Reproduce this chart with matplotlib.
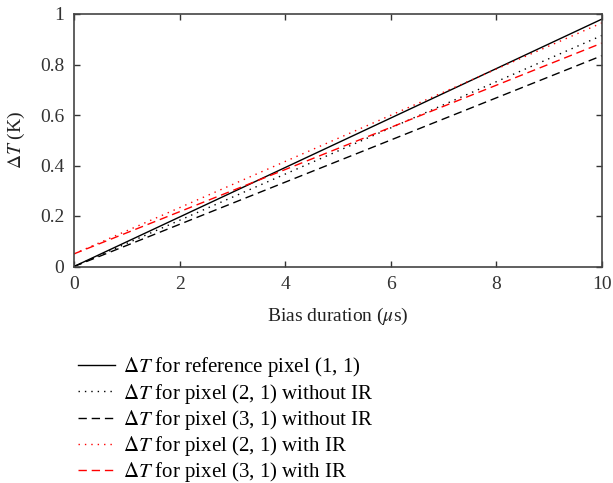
import numpy as np
import matplotlib.pyplot as plt

plt.rcParams['font.family'] = ['Liberation Serif', 'DejaVu Serif']
plt.rcParams['mathtext.fontset'] = 'stix'

# bias duration (us) and temperature rise (K)
bias = [0, 10]
dt_ref = [0.0, 0.98]
dt_21_noir = [0.0, 0.915]
dt_31_noir = [0.0, 0.835]
dt_21_ir = [0.05, 0.965]
dt_31_ir = [0.05, 0.885]

labels = [r'$\Delta T$ for reference pixel (1, 1)',
          r'$\Delta T$ for pixel (2, 1) without IR',
          r'$\Delta T$ for pixel (3, 1) without IR',
          r'$\Delta T$ for pixel (2, 1) with IR',
          r'$\Delta T$ for pixel (3, 1) with IR']

fig = plt.figure(figsize=(6.13, 4.83), dpi=100)
ax = fig.add_axes([74/613, 1-266.5/483, (602-74)/613, (266.5-14)/483])

lw = 1.0
ax.plot(bias, dt_ref, color='black', lw=lw, label=labels[0])
ax.plot(bias, dt_21_noir, color='black', lw=lw, dashes=(1, 3.6), label=labels[1])
ax.plot(bias, dt_31_noir, color='black', lw=lw, dashes=(6, 3.5), label=labels[2])
ax.plot(bias, dt_21_ir, color='red', lw=lw, dashes=(1, 3.6), label=labels[3])
ax.plot(bias, dt_31_ir, color='red', lw=lw, dashes=(6, 3.5), label=labels[4])

ax.set_xlim(0, 10)
ax.set_ylim(0, 1)
ax.set_xticks([0, 2, 4, 6, 8, 10])
ax.set_yticks([0, 0.2, 0.4, 0.6, 0.8, 1])
ax.set_yticklabels(['0', '0.2', '0.4', '0.6', '0.8', '1'])
ax.tick_params(direction='in', top=True, right=True, length=4, width=1,
               labelsize=14, colors='#333333', pad=7)
for s in ax.spines.values():
    s.set_color('#444444')
    s.set_linewidth(1.2)

ax.set_xlabel(r'Bias duration ($\mu$s)', fontsize=14, color='#222222', labelpad=9)
ax.set_ylabel(r'$\Delta T$ (K)', fontsize=14, color='#222222', labelpad=9)

fig.legend(loc='upper left', bbox_to_anchor=(70/613, 1-347/483), frameon=False,
           fontsize=15, handlelength=1.75, handletextpad=0.4, labelspacing=0.11,
           borderaxespad=0)

fig.savefig('out.png', dpi=100)
